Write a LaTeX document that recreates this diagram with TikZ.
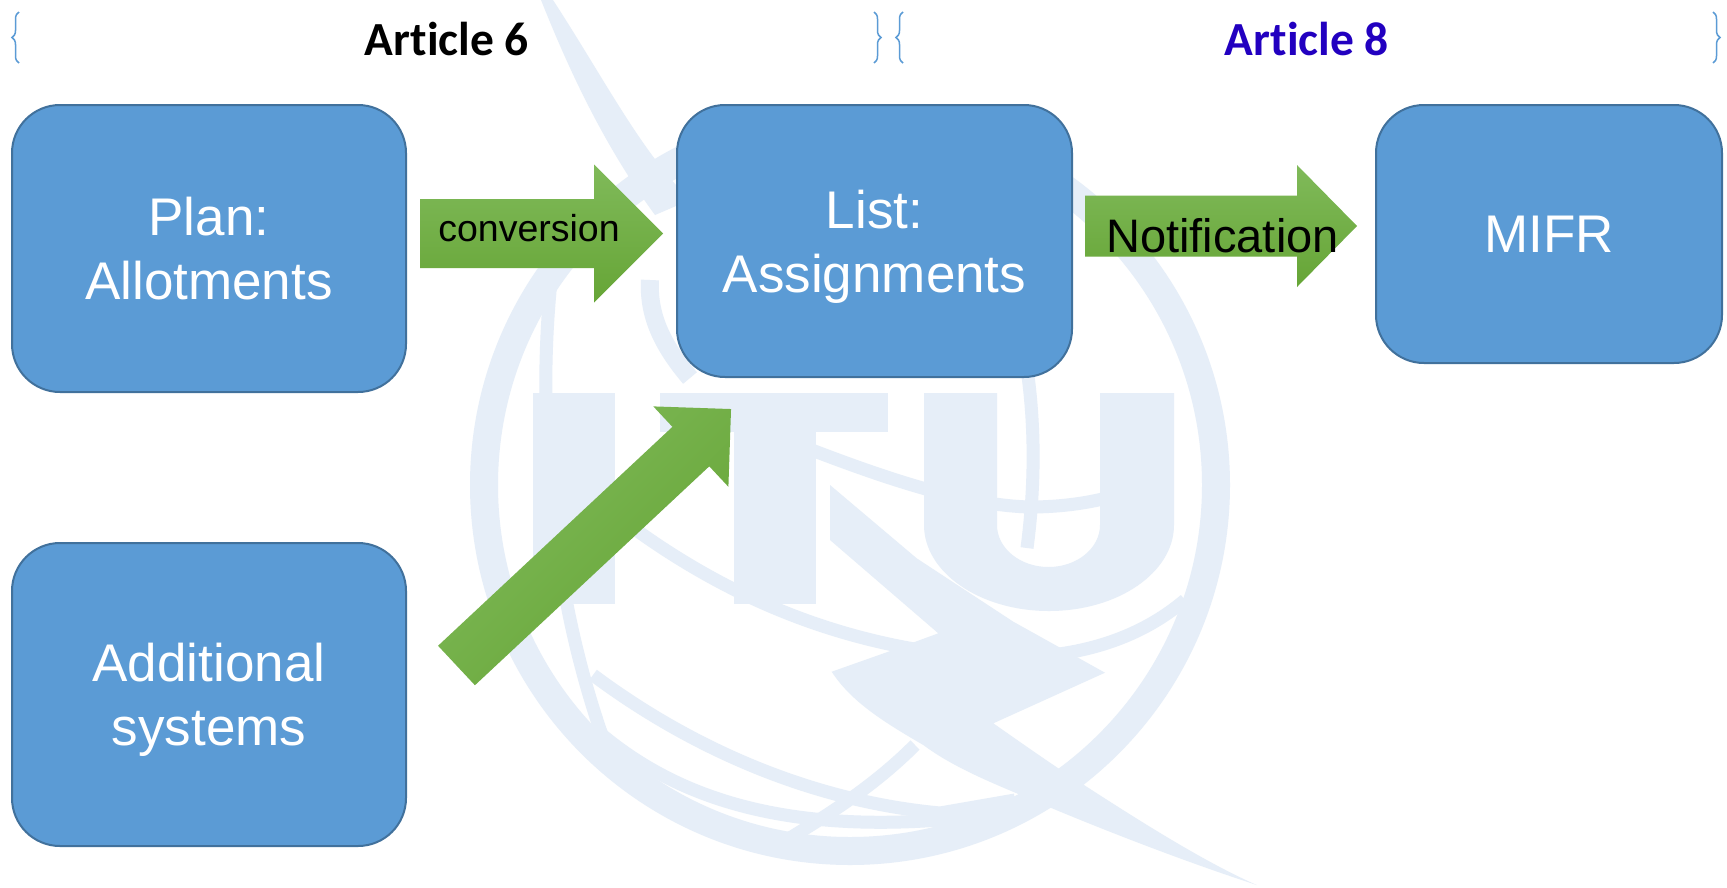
\documentclass[tikz,border=0pt]{standalone}
\usepackage{fontspec}
\setmainfont{Liberation Sans}
\newfontfamily\titlefont[Ligatures=NoCommon]{Carlito}
\usetikzlibrary{decorations.pathreplacing,calc}
\definecolor{boxfill}{RGB}{91,155,213}
\definecolor{boxline}{RGB}{65,113,156}
\definecolor{wm}{RGB}{230,238,248}
\definecolor{grlight}{RGB}{128,186,90}
\definecolor{grdark}{RGB}{102,165,54}
\definecolor{artblue}{RGB}{34,0,192}
\newcommand{\barrow}[7][]{%
  \begin{scope}[shift={(#2)},rotate=#3]
    \shade[arrowshade,#1] (0,-#5) -- ({#4-#7},-#5) -- ({#4-#7},-#6) -- (#4,0) -- ({#4-#7},#6) -- ({#4-#7},#5) -- (0,#5) -- cycle;
  \end{scope}}
\tikzset{
  box/.style={draw=boxline, line width=2pt, fill=boxfill, rounded corners=48pt,
    text=white, align=center, font=\fontsize{53}{64}\selectfont, inner sep=0pt, text depth=0pt},
  arrowshade/.style={top color=grlight, bottom color=grdark},
  bracket/.style={draw=boxfill, line width=1.5pt, decorate, decoration={brace, amplitude=7pt}},
  title/.style={anchor=base, font=\titlefont\bfseries\fontsize{47.5}{57}\selectfont},
  wmline/.style={draw=wm, line width=13pt}
}
\begin{document}
\begin{tikzpicture}[x=1pt, y=-1pt]
\useasboundingbox (0,0) rectangle (1727,887);
\fill[white] (0,0) rectangle (1727,887);
% ---- ITU watermark ----
\draw[wm, line width=28pt] (850,485) circle[radius=366];
\fill[wm] (541,0) .. controls (565,60) and (600,140) .. (655,215) -- (690,200) .. controls (640,150) and (605,80) .. (553,0) -- cycle;
\draw[wm, line width=18pt] (650,280) .. controls (648,315) and (662,345) .. (690,378);
\draw[wmline] (556,240) .. controls (530,420) and (555,620) .. (615,770);
\draw[wmline] (985,230) .. controls (1035,330) and (1040,450) .. (1027,548);
\draw[wmline] (612,512) .. controls (700,580) and (800,630) .. (920,650) .. controls (1030,668) and (1120,655) .. (1185,600);
\draw[wmline] (760,430) .. controls (850,465) and (950,505) .. (1030,507) .. controls (1070,507) and (1100,500) .. (1110,497);
\draw[wmline] (593,675) .. controls (680,740) and (800,800) .. (940,813) -- (1015,800);
\draw[wmline] (601,734) .. controls (680,800) and (790,835) .. (963,818) -- (1000,805);
\draw[wmline] (915,745) .. controls (870,790) and (820,820) .. (770,850);
\fill[wm] (533,393) rectangle (615,604);
\fill[wm] (660,393) rectangle (888,432);
\fill[wm] (734,393) rectangle (816,604);
\fill[wm] (924,393) -- (924,525) arc[start angle=180, end angle=0, x radius=125, y radius=86] -- (1174,393) -- (1100,393) -- (1100,525) arc[start angle=0, end angle=180, x radius=51.5, y radius=42] -- (997,393) -- cycle;
\fill[wm] (830,485) -- (916.7,558.3) -- (1013.3,621.7) -- (1105,672.7) -- (993.3,723.3)
  .. controls (1020,742) and (1040,756) .. (1058.3,768.3)
  .. controls (1130,815) and (1200,860) .. (1256.7,885)
  .. controls (1180,860) and (1090,825) .. (1016.7,793.3)
  .. controls (985,780) and (950,765) .. (923.3,745)
  .. controls (880,720) and (850,700) .. (831.7,671.7)
  -- (888.3,651.7) -- (938.3,633.3) -- (830,540) -- cycle;
% ---- titles and braces ----
\draw[bracket] (19,63) -- (19,12);
\draw[bracket] (874,12) -- (874,63);
\draw[bracket] (903,63) -- (903,12);
\draw[bracket] (1713,12) -- (1713,63);
\node[title] (art6) at (447,55) {Article 6};
\node[title, text=artblue] (art8) at (1307,55) {Article 8};
% ---- boxes ----
\node[box, minimum width=394pt, minimum height=287pt] (plan) at (209,248.5) {Plan:\\Allotments};
\node[box, minimum width=395pt, minimum height=272pt] (list) at (874.5,241) {List:\\Assignments};
\node[box, minimum width=346pt, minimum height=258pt] (mifr) at (1549,234) {MIFR};
\node[box, minimum width=394pt, minimum height=303pt] (add) at (209,694.5) {Additional\\systems};
% ---- block arrows ----
\coordinate (a1s) at (420,233.5);
\coordinate (a2s) at (1085,226);
\coordinate (a3s) at (456.5,665.5);
\barrow{a1s}{0}{243}{34.5}{69}{69}
\barrow{a2s}{0}{272}{30.5}{61}{60}
\barrow[shading angle=45]{a3s}{43.05}{375.7}{27}{55}{55}
\node[anchor=base, font=\fontsize{37.5}{45}\selectfont] (conv) at (529,241) {conversion};
\node[anchor=base, font=\fontsize{47}{56}\selectfont] (notif) at (1222.5,252) {Notification};
\end{tikzpicture}
\end{document}
